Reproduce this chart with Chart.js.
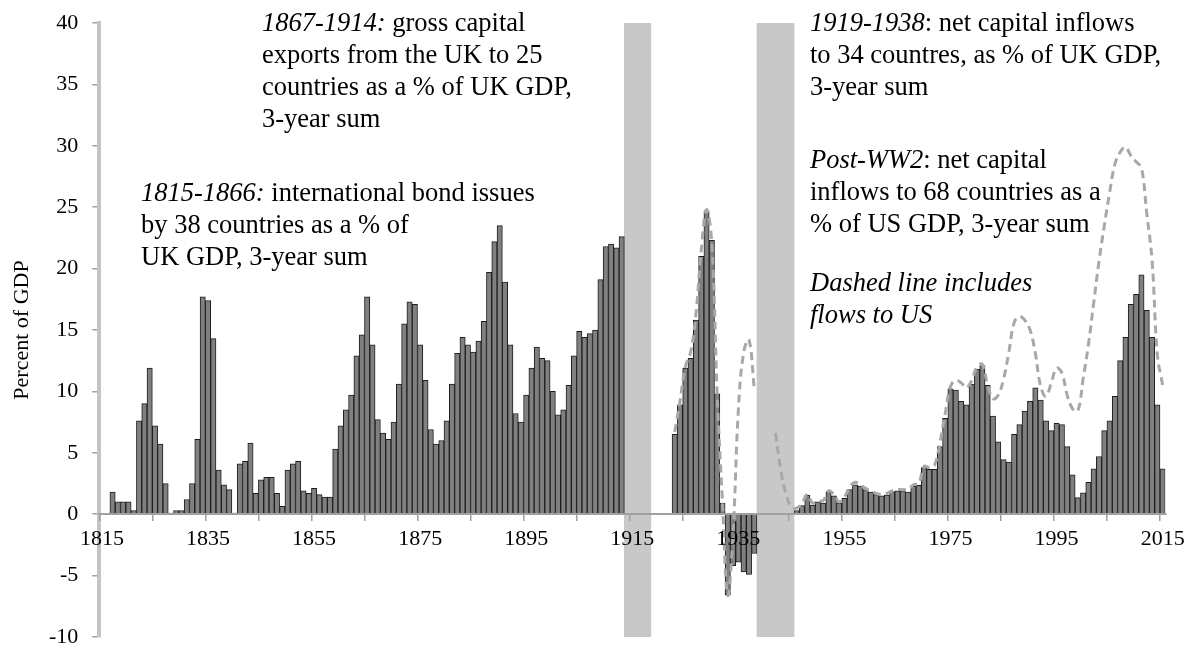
<!DOCTYPE html>
<html>
<head>
<meta charset="utf-8">
<script src="https://cdn.jsdelivr.net/npm/chart.js@4.4.1/dist/chart.umd.min.js"></script>
<style>
  html, body { margin: 0; padding: 0; background: #fff; }
</style>
</head>
<body>
<canvas id="myChart" width="1188" height="645"></canvas>
<script>
// years shown on the category axis
var firstYear = 1815;
var lastYear = 2015;

// bars, % of GDP, 3-year sums
var bondIssues = [null, null, 1.8, 1.0, 1.0, 1.0, 0.3, 7.6, 9.0, 11.9, 7.2, 5.7, 2.5, 0.1, 0.3, 0.3, 1.2, 2.5, 6.1, 17.7,
  17.4, 14.3, 3.6, 2.4, 2.0, 0.1, 4.1, 4.3, 5.8, 1.7, 2.8, 3.0, 3.0, 1.7, 0.65, 3.6, 4.1, 4.3, 1.9, 1.7,
  2.1, 1.6, 1.4, 1.4, 5.3, 7.2, 8.5, 9.7, 12.9, 14.6, 17.7, 13.8];              // 1815-1866
var grossExports = [7.7, 6.6, 6.1, 7.5, 10.6, 15.5, 17.3, 17.1, 13.8, 10.9, 6.9, 5.7, 6.0, 7.6, 10.6, 13.1, 14.4, 13.8,
  13.2, 14.1, 15.7, 19.7, 22.2, 23.5, 18.9, 13.8, 8.2, 7.5, 9.7, 11.9, 13.6, 12.7, 12.5, 10.0, 8.1, 8.5,
  10.5, 12.9, 14.9, 14.4, 14.7, 15.0, 19.1, 21.8, 22.0, 21.7, 22.6];             // 1867-1913
var interwarFlows = [6.5, 8.9, 11.9, 12.7, 15.8, 21.0, 24.7, 22.3, 9.8, 0.9, -6.6, -4.2, -3.9, -4.7, -4.9, -3.2]; // 1923-1938
var postwarFlows = [0.3, 0.7, 1.55, 0.75, 1.0, 0.9, 1.8, 1.5, 0.9, 1.3,
  2.0, 2.4, 2.3, 2.0, 1.8, 1.6, 1.5, 1.55, 1.85, 1.9,
  1.9, 1.8, 2.3, 2.35, 3.8, 3.65, 3.65, 5.5, 7.8, 10.2,
  10.1, 9.2, 8.9, 10.6, 11.8, 12.1, 10.5, 8.0, 5.9, 4.45,
  4.25, 6.5, 7.3, 8.4, 9.2, 10.3, 9.3, 7.6, 6.8, 7.4,
  7.3, 5.5, 3.2, 1.35, 1.75, 2.6, 3.7, 4.7, 6.8, 7.6,
  9.6, 12.5, 14.4, 17.1, 17.9, 19.5, 16.6, 14.4, 8.9, 3.7];                     // 1946-2015

// dashed line: flows including those to the US
var interwarWithUS = [6.7, 9.2, 12.0, 13.2, 16.3, 21.5, 24.8, 22.0, 9.8, 1.0, -6.6, -1.5, 8.5, 13.2, 14.2, 10.2]; // 1923-1938
var postwarWithUS = [6.6, 3.6, 1.6, 0.6, 0.5, 0.9, 1.6, 0.9, 1.1, 1.1,
  1.9, 1.6, 1.0, 1.4, 2.2, 2.6, 2.4, 2.1, 1.9, 1.7,
  1.6, 1.7, 1.9, 2.0, 2.0, 2.0, 2.4, 2.5, 3.9, 3.8,
  4.0, 5.8, 8.2, 10.4, 10.9, 10.7, 10.3, 10.9, 12.0, 12.2,
  10.5, 9.4, 9.7, 11.0, 13.2, 15.6, 16.1, 15.8, 15.0, 13.1,
  10.4, 9.6, 10.7, 11.9, 11.5, 9.7, 8.6, 8.4, 11.0, 13.8,
  17.2, 20.6, 23.5, 26.2, 28.5, 29.5, 29.9, 29.2, 28.7, 28.2,
  24.5, 20.7, 13.0, 10.5];                                                       // 1942-2015

var warYears = [[1914, 1918], [1939, 1945]];
var yMin = -10, yMax = 40, yStep = 5;

var font = '"Liberation Serif", "Times New Roman", serif';

var years = [];
for (var y = firstYear; y <= lastYear; y++) years.push(String(y));

function place(target, start, vals) {
    vals.forEach(function (v, k) { target[start - firstYear + k] = v; });
}

var bars = years.map(function () { return null; });
place(bars, 1815, bondIssues);
place(bars, 1867, grossExports);
place(bars, 1923, interwarFlows);
place(bars, 1946, postwarFlows);

var dashed = years.map(function () { return null; });
place(dashed, 1923, interwarWithUS);
place(dashed, 1942, postwarWithUS);

var bands = years.map(function () { return null; });
warYears.forEach(function (w) {
    for (var yr = w[0]; yr <= w[1]; yr++) bands[yr - firstYear] = [yMin, yMax];
});

// text boxes on the chart: [text, italic]
var notes = [
    { x: 141, y: 192, lines: [[['1815-1866:', 1], [' international bond issues', 0]],
                             [['by 38 countries as a % of', 0]],
                             [['UK GDP, 3-year sum', 0]]] },
    { x: 262, y: 22, lines: [[['1867-1914:', 1], [' gross capital', 0]],
                            [['exports from the UK to 25', 0]],
                            [['countries as a % of UK GDP,', 0]],
                            [['3-year sum', 0]]] },
    { x: 810, y: 22, lines: [[['1919-1938', 1], [': net capital inflows', 0]],
                            [['to 34 countres, as % of UK GDP,', 0]],
                            [['3-year sum', 0]]] },
    { x: 810, y: 159, lines: [[['Post-WW2', 1], [': net capital', 0]],
                             [['inflows to 68 countries as a', 0]],
                             [['% of US GDP, 3-year sum', 0]]] },
    { x: 810, y: 282, lines: [[['Dashed line includes', 1]],
                             [['flows to US', 1]]] }
];

var notesPlugin = {
    id: 'notes',
    afterDraw: function (chart) {
        var c = chart.ctx;
        c.save();
        c.fillStyle = '#000';
        c.textBaseline = 'alphabetic';
        c.textAlign = 'left';
        notes.forEach(function (n) {
            n.lines.forEach(function (line, li) {
                var cx = n.x;
                var by = n.y + li * 32 + 9;
                line.forEach(function (run) {
                    c.font = (run[1] ? 'italic ' : '') + '26.5px ' + font;
                    c.fillText(run[0], cx, by);
                    cx += c.measureText(run[0]).width;
                });
            });
        });
        c.restore();
    }
};

window.onload = function () {
    var ctx = document.getElementById('myChart').getContext('2d');
    new Chart(ctx, {
        type: 'bar',
        data: {
            labels: years,
            datasets: [{
                type: 'line',
                label: 'incl. US',
                data: dashed,
                borderColor: '#a8a8a8',
                borderWidth: 3,
                borderDash: [8, 5],
                pointRadius: 0,
                tension: 0.4,
                fill: false,
                spanGaps: false,
                order: 0
            }, {
                label: 'flows',
                data: bars,
                backgroundColor: '#808080',
                borderColor: '#1e1e1e',
                borderWidth: 1,
                categoryPercentage: 1,
                barPercentage: 1,
                grouped: false,
                order: 1
            }, {
                label: 'wars',
                data: bands,
                backgroundColor: '#c8c8c8',
                borderWidth: 0,
                categoryPercentage: 1,
                barPercentage: 1,
                grouped: false,
                order: 2
            }]
        },
        options: {
            responsive: false,
            animation: false,
            devicePixelRatio: 1,
            layout: { padding: { left: 0, right: 22.7, top: 23, bottom: 8 } },
            plugins: { legend: { display: false }, tooltip: { enabled: false } },
            scales: {
                x: {
                    type: 'category',
                    position: { y: 0 },
                    offset: true,
                    grid: {
                        offset: true,
                        drawOnChartArea: false,
                        drawTicks: true,
                        tickLength: 6,
                        lineWidth: 1.5,
                        z: 1,
                        color: function (c) { return c.index % 10 === 0 ? '#a0a0a0' : 'rgba(0,0,0,0)'; }
                    },
                    border: { color: '#a0a0a0', width: 2, z: 1 },
                    ticks: {
                        autoSkip: false,
                        maxRotation: 0,
                        minRotation: 0,
                        padding: 6,
                        z: 1,
                        color: '#000',
                        font: { family: font, size: 22 },
                        callback: function (v, i) { return i % 20 === 0 ? years[i] : ''; }
                    },
                    afterFit: function (s) { s.paddingLeft = 0; s.paddingRight = 0; }
                },
                y: {
                    min: yMin,
                    max: yMax,
                    position: 'left',
                    ticks: { stepSize: yStep, padding: 14, color: '#000', font: { family: font, size: 22 } },
                    grid: { drawOnChartArea: false, drawTicks: true, tickLength: 7, color: '#a0a0a0', lineWidth: 1.5 },
                    border: { color: '#c4c4c4', width: 4 },
                    title: {
                        display: true,
                        text: 'Percent of GDP',
                        color: '#000',
                        font: { family: font, size: 22 },
                        padding: { top: 9, bottom: 0 }
                    },
                    afterFit: function (s) { s.width = 99.3; s.paddingTop = 0; s.paddingBottom = 0; }
                }
            }
        },
        plugins: [notesPlugin]
    });
};
</script>
</body>
</html>
